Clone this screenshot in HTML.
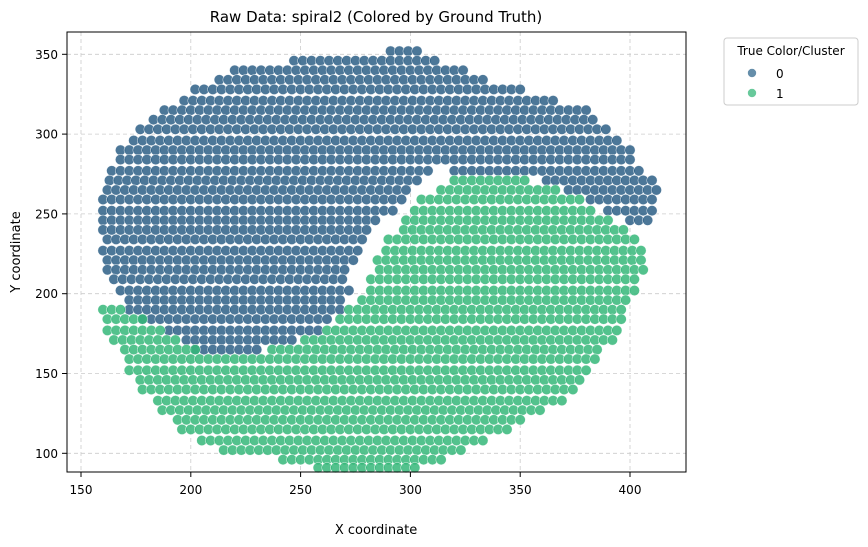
<!DOCTYPE html>
<html><head><meta charset="utf-8"><style>
body{margin:0;background:#fff;}
svg{display:block;font-family:"DejaVu Sans","Liberation Sans",sans-serif;}
</style></head><body>
<svg id="chart" width="868" height="547">
  <text x="376" y="22" font-size="15" text-anchor="middle" fill="#000">Raw Data: spiral2 (Colored by Ground Truth)</text>
  <g id="grid"></g>
  <g id="points"></g>
  <rect x="67" y="32" width="619" height="440" fill="none" stroke="#000" stroke-width="1"/>
  <g id="xaxis"></g>
  <g id="yaxis"></g>
  <text x="376" y="534" font-size="13" text-anchor="middle">X coordinate</text>
  <text x="20" y="252" font-size="13" text-anchor="middle" transform="rotate(-90 20 252)">Y coordinate</text>
  <g>
    <rect x="724" y="38" width="134" height="67" rx="3" fill="#fff" stroke="#ccc"/>
    <text x="791" y="55" font-size="12" text-anchor="middle">True Color/Cluster</text>
    <g>
      <circle cx="752" cy="73" r="4.5" fill="#31688e" fill-opacity="0.75" stroke="#fff" stroke-width="0.6"/>
      <text x="776" y="78" font-size="12">0</text>
    </g>
    <g>
      <circle cx="752" cy="93" r="4.5" fill="#35b779" fill-opacity="0.75" stroke="#fff" stroke-width="0.6"/>
      <text x="776" y="98" font-size="12">1</text>
    </g>
  </g>
</svg>
<script>
const xTicks=[150,200,250,300,350,400];
const yTicks=[100,150,200,250,300,350];
const blueSpans=[[352,291,305],[346,245,313],[340,220,327],[334,211,336],[328,202,350],[321,195,368],[315,188,382],[309,181,386],[303,177,391],[296,172,395],[290,168,400],[284,166,402],[277,164,310],[277,318,406],[271,163,305],[271,360,410],[265,162,300],[265,370,412],[259,160,296],[259,380,412],[252,160,292],[252,388,412],[246,160,285],[246,398,411],[240,160,280],[234,160,280],[227,160,276],[221,160,274],[215,162,272],[209,163,272],[202,168,272],[196,170,270],[190,172,268],[184,176,262],[177,190,258],[171,196,248],[165,202,232]];
const greenSpans=[[271,320,355],[265,312,368],[259,305,378],[252,300,385],[246,298,392],[240,295,400],[234,290,405],[227,287,405],[221,285,406],[215,284,406],[209,282,405],[202,280,402],[196,278,400],[190,158,170],[190,272,398],[184,160,178],[184,268,396],[177,160,188],[177,262,395],[171,163,195],[171,252,392],[165,168,202],[165,237,388],[159,170,385],[152,172,382],[146,175,378],[140,178,374],[133,183,370],[127,187,362],[121,192,352],[115,196,345],[108,203,335],[102,215,325],[96,240,315],[91,258,305]];
const NS='http://www.w3.org/2000/svg';
function xS(v){return 81+(v-150)*2.196;}
function yS(v){return 54.3+(350-v)*1.596;}
const grid=document.getElementById('grid'),xa=document.getElementById('xaxis'),ya=document.getElementById('yaxis'),pts=document.getElementById('points');
function mk(t,a,p){const e=document.createElementNS(NS,t);for(const k in a)e.setAttribute(k,a[k]);p.appendChild(e);return e;}
xTicks.forEach(t=>{const x=xS(t);
  const g=mk('line',{x1:x,x2:x,y1:32,y2:472,stroke:'#ccc','stroke-dasharray':'4,3','stroke-width':0.8},grid);
  
  
  const tk=mk('line',{x1:x,x2:x,y1:472,y2:477,stroke:'#000'},xa);
  
  
  const l=mk('text',{x:x,y:494,'font-size':12,'text-anchor':'middle'},xa);l.textContent=t;
  
  
});
yTicks.forEach(t=>{const y=yS(t);
  const g=mk('line',{x1:67,x2:686,y1:y,y2:y,stroke:'#ccc','stroke-dasharray':'4,3','stroke-width':0.8},grid);
  
  
  const tk=mk('line',{x1:62,x2:67,y1:y,y2:y,stroke:'#000'},ya);
  
  
  const l=mk('text',{x:58,y:y+4.5,'font-size':12,'text-anchor':'end'},ya);l.textContent=t;
  
  
});
function drawSpans(spans,color,name){
  spans.forEach((s,i)=>{const off=(i%2)?2:0;
    for(let x=s[1]+off;x<=s[2];x+=4){
      const c=mk('circle',{cx:xS(x).toFixed(1),cy:yS(s[0]).toFixed(1),r:5.2,fill:color,'fill-opacity':0.85,stroke:'#fff','stroke-width':0.6,'stroke-opacity':0.7},pts);
      
      
    }});
}
drawSpans(blueSpans,'#2d5f86','cluster-0-point');
drawSpans(greenSpans,'#35b779','cluster-1-point');
</script>
</body></html>
